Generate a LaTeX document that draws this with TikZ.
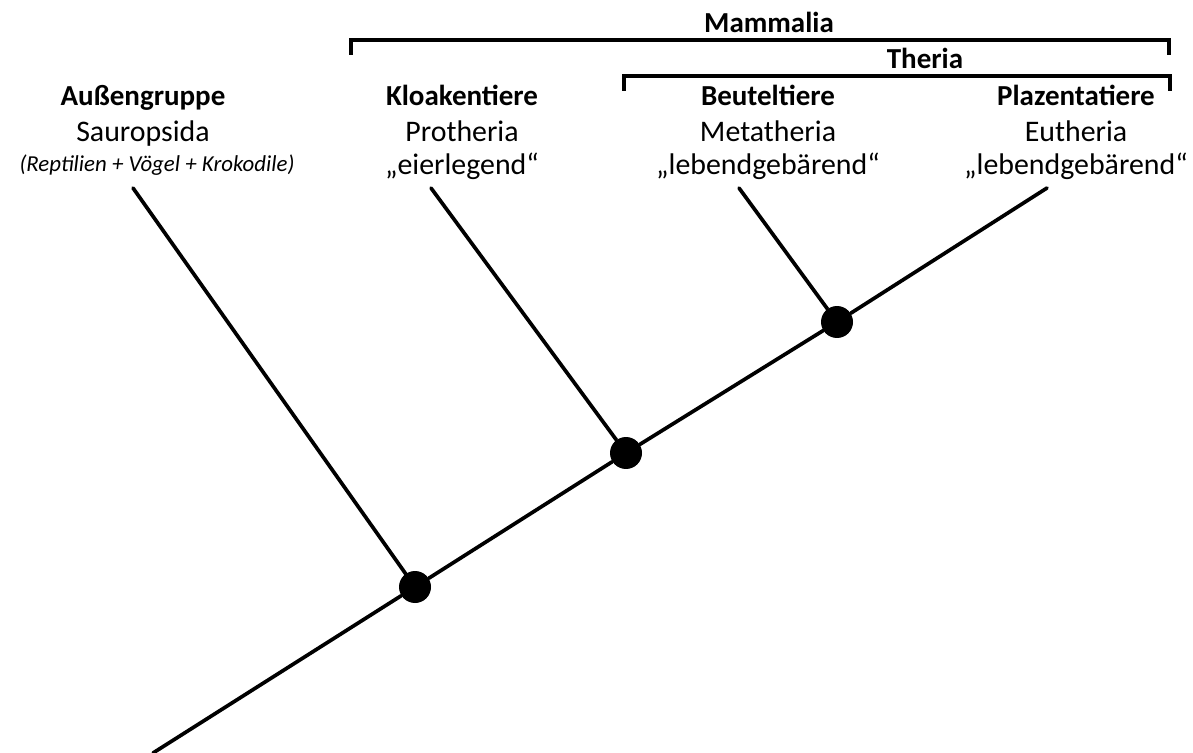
\documentclass[tikz,border=0pt]{standalone}
\usepackage{fontspec}
\setmainfont{Carlito}
\usetikzlibrary{positioning}
\begin{document}
\begin{tikzpicture}[x=0.02cm,y=-0.02cm]
%ast : Linienstärke der Äste, knoten : Verzweigungspunkte
\tikzset{ast/.style={line width=2.1pt,line cap=round},
klammer/.style={line width=2.2pt},
knoten/.style={circle,fill=black,inner sep=0pt,minimum size=0.64cm},
kopf/.style={anchor=base,inner sep=0pt,font=\fontsize{16.5}{19}\selectfont\bfseries},
zeile/.style={anchor=base,inner sep=0pt,font=\fontsize{17}{19}\selectfont},
klein/.style={anchor=base,inner sep=0pt,font=\fontsize{13}{15}\selectfont\itshape}}
\useasboundingbox (0,0) rectangle (1193,753);
%Baum
\coordinate (wurzel) at (153,753);
\node[knoten] (k1) at (415,587) {};
\node[knoten] (k2) at (626,453) {};
\node[knoten] (k3) at (837,322) {};
\coordinate (sauro) at (133,188);
\coordinate (proto) at (431,188);
\coordinate (meta) at (739,188);
\coordinate (eu) at (1047,188);
\draw[ast] (wurzel) -- (k1) -- (k2) -- (k3) -- (eu);
\draw[ast] (sauro) -- (k1);
\draw[ast] (proto) -- (k2);
\draw[ast] (meta) -- (k3);
%Beschriftung
\node[kopf] (aussen) at (143,106) {Außengruppe};
\node[zeile] (sauropsida) at ([yshift=-0.72cm]aussen.base) {Sauropsida};
\node[klein] (reptil) at ([xshift=0.28cm,yshift=-1.32cm]aussen.base) {(Reptilien + Vögel + Krokodile)};
\node[kopf] (kloake) at (462,106) {Kloakentiere};
\node[zeile] (protheria) at ([yshift=-0.72cm]kloake.base) {Protheria};
\node[zeile] (eier) at ([yshift=-1.38cm]kloake.base) {„eierlegend“};
\node[kopf] (beutel) at (768,106) {Beuteltiere};
\node[zeile] (metatheria) at ([yshift=-0.72cm]beutel.base) {Metatheria};
\node[zeile] (lebend1) at ([yshift=-1.38cm]beutel.base) {„lebendgebärend“};
\node[kopf] (plazenta) at (1076,106) {Plazentatiere};
\node[zeile] (eutheria) at ([yshift=-0.72cm]plazenta.base) {Eutheria};
\node[zeile] (lebend2) at ([yshift=-1.38cm]plazenta.base) {„lebendgebärend“};
%Klammern
\coordinate (m1) at (351,55);
\coordinate (m2) at (1169,55);
\draw[klammer] (m1) -- ++(0,-15) -| (m2);
\node[kopf] (mammalia) at (769,33) {Mammalia};
\coordinate (t1) at (624,91);
\coordinate (t2) at (1170,91);
\draw[klammer] (t1) -- ++(0,-15) -| (t2);
\node[kopf] (theria) at (925,69) {Theria};
\end{tikzpicture}
\end{document}
